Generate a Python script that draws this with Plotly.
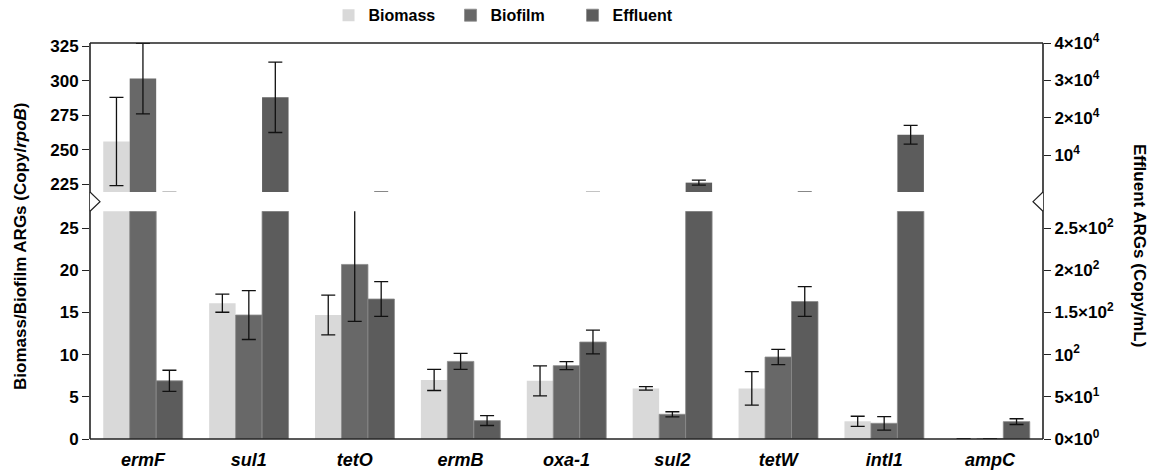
import plotly.graph_objects as go

categories = ["ermF", "sul1", "tetO", "ermB", "oxa-1", "sul2", "tetW", "intI1", "ampC"]

biomass = [256, 16.1, 14.7, 7.0, 6.9, 6.0, 6.0, 2.1, 0.02]
biomass_err = [32, 1.07, 2.35, 1.25, 1.78, 0.2, 1.98, 0.6, 0.02]
biofilm = [301.6, 14.7, 20.7, 9.2, 8.7, 2.93, 9.72, 1.86, 0.02]
biofilm_err = [25.5, 2.9, 6.75, 0.95, 0.48, 0.3, 0.9, 0.8, 0.02]
effluent = [69, 25500, 166, 21.8, 115, 2720, 163, 15500, 20.6]
effluent_err = [12.5, 9400, 20.7, 5.8, 14, 650, 17.6, 2500, 3.4]

left_low_ticks = [0, 5, 10, 15, 20, 25]
left_high_ticks = [225, 250, 275, 300, 325]
right_low_ticks = [0, 50, 100, 150, 200, 250]
right_low_text = ["0×10<sup>0</sup>", "5×10<sup>1</sup>", "10<sup>2</sup>",
                  "1.5×10<sup>2</sup>", "2×10<sup>2</sup>", "2.5×10<sup>2</sup>"]
right_high_ticks = [10000, 20000, 30000, 40000]
right_high_text = ["10<sup>4</sup>", "2×10<sup>4</sup>", "3×10<sup>4</sup>", "4×10<sup>4</sup>"]

FONT = "Liberation Sans, Arial, sans-serif"
C_BIOMASS = "#d9d9d9"
C_BIOFILM = "#686868"
C_EFFLUENT = "#5c5c5c"
W = 0.25

def err(arr):
    return dict(type="data", array=arr, color="#111", thickness=1.3, width=7, visible=True)

fig = go.Figure()
series = [
    ("Biomass", biomass, biomass_err, C_BIOMASS, -0.375, ("y", "y2"), "rgba(0,0,0,0)"),
    ("Biofilm", biofilm, biofilm_err, C_BIOFILM, -0.125, ("y", "y2"), "#8a8a8a"),
    ("Effluent", effluent, effluent_err, C_EFFLUENT, 0.125, ("y3", "y4"), "#8a8a8a"),
]
for name, vals, errs, col, off, axes, lc in series:
    for i, ya in enumerate(axes):
        fig.add_trace(go.Bar(
            x=categories, y=vals, name=name, xaxis="x", yaxis=ya,
            width=W, offset=off,
            marker=dict(color=col, line=dict(color=lc, width=0.8 if i == 0 else 0)),
            error_y=err(errs), showlegend=(i == 0), legendgroup=name,
        ))

FIG_W, FIG_H = 1151, 472
ML, MR, MT, MB = 90, 108, 43, 33

LOW_DOM = [0, 0.575]
HIGH_DOM = [0.6237, 1]
tickf = dict(family=FONT, size=17, color="black", weight="bold")
common_y = dict(showgrid=False, zeroline=False, showline=False, ticks="outside",
                ticklen=7, tickwidth=1.3, tickcolor="#222", tickfont=tickf, automargin=False)

fig.update_layout(
    width=FIG_W, height=FIG_H,
    margin=dict(l=ML, r=MR, t=MT, b=MB, autoexpand=False),
    paper_bgcolor="white", plot_bgcolor="white",
    barmode="overlay",
    font=dict(family=FONT, color="black"),
    xaxis=dict(type="category", range=[-0.5, 8.5], domain=[0, 1], anchor="y",
               showgrid=False, zeroline=False, showline=False, ticks="", automargin=False,
               ticklabelstandoff=8,
               tickfont=dict(family=FONT, size=18, color="black", weight="bold", style="italic")),
    yaxis=dict(domain=LOW_DOM, range=[0, 27], tickvals=left_low_ticks, anchor="x", **common_y),
    yaxis2=dict(domain=HIGH_DOM, range=[219.4, 327.4], tickvals=left_high_ticks, anchor="x", **common_y),
    yaxis3=dict(overlaying="y", side="right", range=[0, 270], tickvals=right_low_ticks,
                ticktext=right_low_text, anchor="x", **common_y),
    yaxis4=dict(overlaying="y2", side="right", range=[213, 40000], tickvals=right_high_ticks,
                ticktext=right_high_text, anchor="x", **common_y),
    legend=dict(orientation="h", x=0.2503, y=1.07, xanchor="left", yanchor="middle",
                font=dict(family=FONT, size=16, color="black", weight="bold"),
                entrywidth=77, entrywidthmode="pixels", bgcolor="rgba(0,0,0,0)",
                traceorder="normal"),
)

line = dict(color="#222", width=1.6)
shapes = [
    dict(type="line", xref="paper", yref="paper", x0=0, x1=0, y0=0, y1=1, line=line),
    dict(type="line", xref="paper", yref="paper", x0=1, x1=1, y0=0, y1=1, line=line),
    dict(type="line", xref="paper", yref="paper", x0=0, x1=1, y0=1, y1=1, line=line),
    dict(type="line", xref="paper", yref="paper", x0=0, x1=1, y0=0, y1=0, line=line),
]
dx = 10 / 953
shapes.append(dict(type="path", xref="paper", yref="paper",
                   path=f"M 0 {HIGH_DOM[0]} L {dx} {(HIGH_DOM[0] + LOW_DOM[1]) / 2} L 0 {LOW_DOM[1]}",
                   line=dict(color="#222", width=1.2), fillcolor="white"))
shapes.append(dict(type="path", xref="paper", yref="paper",
                   path=f"M 1 {HIGH_DOM[0]} L {1 - dx} {(HIGH_DOM[0] + LOW_DOM[1]) / 2} L 1 {LOW_DOM[1]}",
                   line=dict(color="#222", width=1.2), fillcolor="white"))
fig.update_layout(shapes=shapes)

fig.add_annotation(text="Biomass/Biofilm ARGs (Copy/<i>rpoB</i>)", xref="paper", yref="paper",
                   x=-69 / 953, y=0.485, textangle=-90, showarrow=False,
                   xanchor="center", yanchor="middle",
                   font=dict(family=FONT, size=17, color="black", weight="bold"))
fig.add_annotation(text="Effluent ARGs (Copy/mL)", xref="paper", yref="paper",
                   x=1 + 96 / 953, y=0.49, textangle=90, showarrow=False,
                   xanchor="center", yanchor="middle",
                   font=dict(family=FONT, size=17, color="black", weight="bold"))

fig.write_html("out.html", config={"displayModeBar": False},
               post_script="document.body.style.margin='0';document.body.style.padding='0';")
